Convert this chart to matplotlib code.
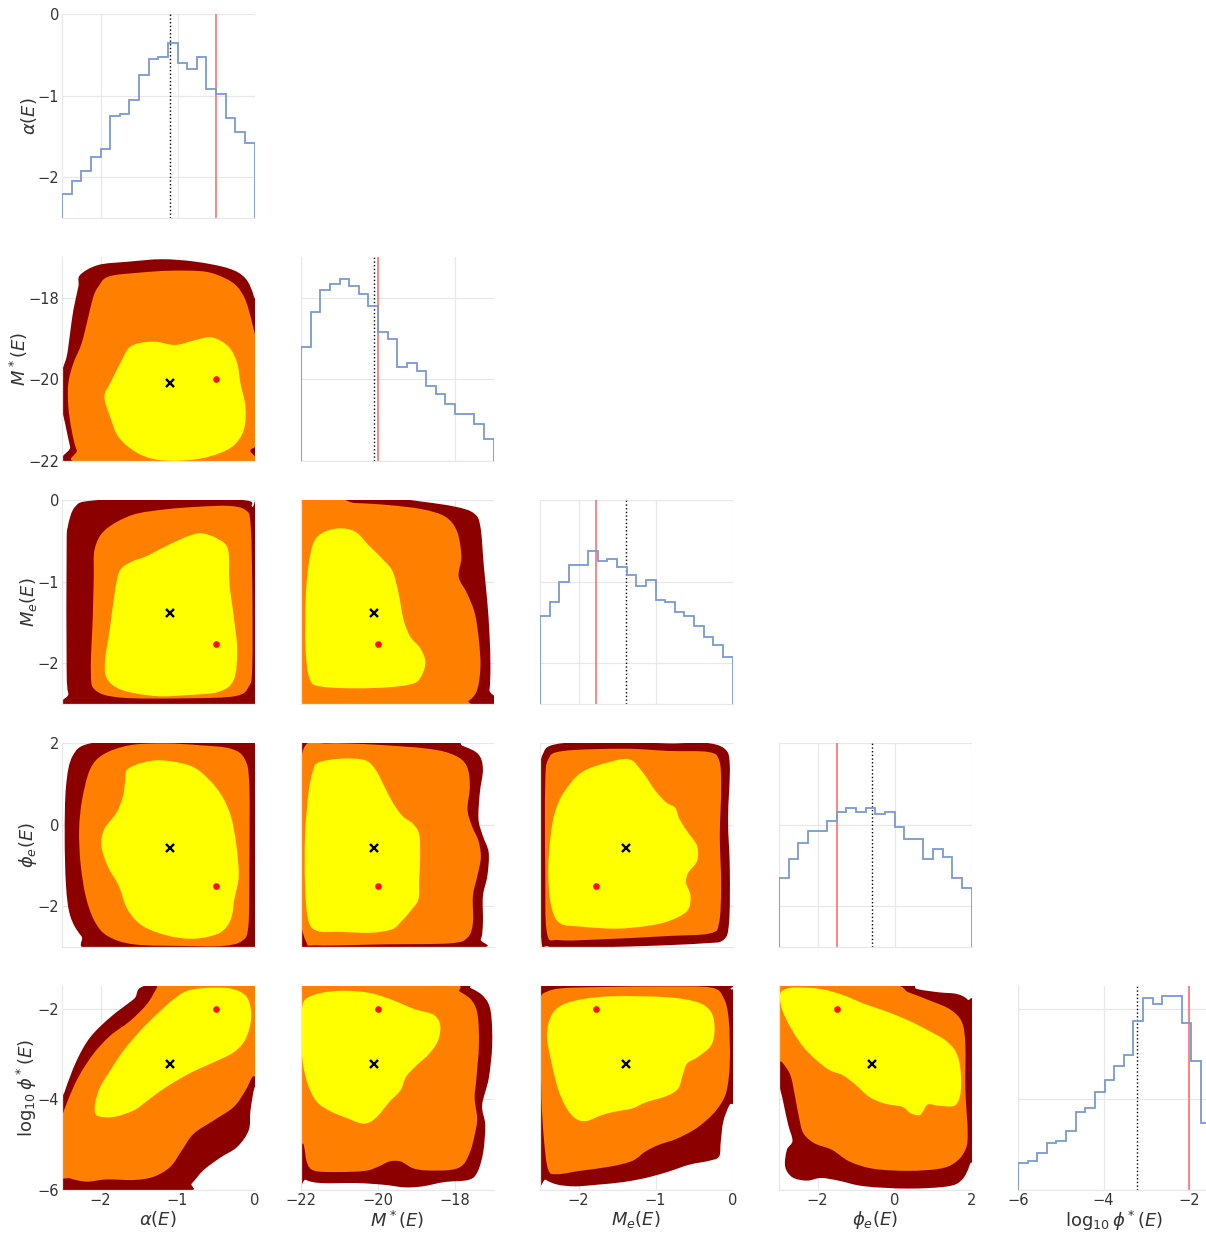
import numpy as np
import matplotlib
matplotlib.use("Agg")
import matplotlib.pyplot as plt
from matplotlib.path import Path
from matplotlib.patches import PathPatch

labels = [r"$\alpha(E)$", r"$M^*(E)$", r"$M_e(E)$", r"$\phi_e(E)$", r"$\log_{10}\phi^*(E)$"]
ranges = [(-2.5, 0.0), (-22.0, -17.0), (-2.5, 0.0), (-3.0, 2.0), (-6.0, -1.5)]
ticks = [[-2, -1, 0], [-22, -20, -18], [-2, -1, 0], [-2, 0, 2], [-6, -4, -2]]
medians = [-1.10, -20.1, -1.38, -0.58, -3.22]
truths = [-0.50, -20.0, -1.77, -1.50, -2.00]

# marginal histograms, 20 bins over each range, height as fraction of panel
hist_alpha = [0.12, 0.18, 0.23, 0.30, 0.34, 0.50, 0.51, 0.58, 0.70, 0.78,
              0.79, 0.86, 0.76, 0.73, 0.79, 0.63, 0.61, 0.49, 0.42, 0.37]
hist_mstar = [0.56, 0.73, 0.84, 0.87, 0.89, 0.86, 0.82, 0.76, 0.63, 0.60,
              0.46, 0.48, 0.44, 0.37, 0.33, 0.28, 0.23, 0.23, 0.18, 0.11]
hist_me = [0.43, 0.50, 0.60, 0.68, 0.68, 0.75, 0.70, 0.71, 0.67, 0.63,
           0.58, 0.61, 0.51, 0.50, 0.45, 0.43, 0.38, 0.33, 0.29, 0.23]
hist_phie = [0.34, 0.43, 0.51, 0.57, 0.57, 0.62, 0.66, 0.68, 0.66, 0.68,
             0.65, 0.66, 0.59, 0.53, 0.53, 0.43, 0.48, 0.44, 0.34, 0.29]
hist_logphi = [0.13, 0.14, 0.18, 0.23, 0.24, 0.29, 0.38, 0.40, 0.48, 0.54,
               0.61, 0.66, 0.83, 0.94, 0.91, 0.95, 0.95, 0.82, 0.63, 0.33]

# credible region outlines (l3 = outer, l2 = middle, l1 = inner),
# given as fractions of the plotted range of (x parameter, y parameter)
alpha_mstar_l3 = [(0.094, 0.912), (0.189, 0.961), (0.345, 0.977), (0.519, 0.989), (0.693, 0.977),
                  (0.866, 0.944), (0.953, 0.895), (0.997, 0.806), (1.01, 0.71), (1.02, -0.02),
                  (0.068, -0.02), (0.042, 0.070), (0.016, 0.185), (-0.01, 0.30), (-0.01, 0.41),
                  (0.024, 0.511), (0.042, 0.626), (0.059, 0.740), (0.085, 0.855)]
alpha_mstar_l2 = [(0.189, 0.855), (0.241, 0.904), (0.398, 0.923), (0.571, 0.933), (0.745, 0.928),
                  (0.849, 0.895), (0.910, 0.855), (0.953, 0.789), (0.988, 0.675), (1.01, 0.544),
                  (1.01, 0.119), (0.979, 0.054), (0.936, -0.01), (0.120, -0.01), (0.076, 0.054),
                  (0.050, 0.152), (0.033, 0.266), (0.033, 0.381), (0.059, 0.479), (0.102, 0.577),
                  (0.137, 0.708), (0.163, 0.806)]
alpha_mstar_l1 = [(0.398, 0.577), (0.484, 0.585), (0.589, 0.569), (0.693, 0.593), (0.780, 0.606),
                  (0.866, 0.560), (0.910, 0.479), (0.927, 0.381), (0.953, 0.266), (0.944, 0.152),
                  (0.884, 0.070), (0.762, 0.021), (0.623, 0.002), (0.484, 0.008), (0.380, 0.046),
                  (0.293, 0.119), (0.250, 0.217), (0.220, 0.315), (0.250, 0.381), (0.311, 0.495),
                  (0.345, 0.552)]

alpha_me_l3 = [(0.068, 0.967), (0.155, 0.997), (0.484, 1.01), (0.936, 1.00), (0.988, 0.967),
               (1.01, 0.918), (1.01, 0.036), (0.988, -0.01), (0.068, -0.01), (0.033, 0.052),
               (0.024, 0.183), (0.024, 0.755), (0.030, 0.869)]
alpha_me_l2 = [(0.170, 0.760), (0.224, 0.853), (0.363, 0.926), (0.536, 0.954), (0.710, 0.967),
               (0.866, 0.971), (0.953, 0.951), (0.979, 0.886), (0.988, 0.592), (0.988, 0.183),
               (0.970, 0.085), (0.901, 0.039), (0.658, 0.028), (0.311, 0.031), (0.172, 0.069),
               (0.150, 0.167), (0.160, 0.428), (0.165, 0.624)]
alpha_me_l1 = [(0.432, 0.722), (0.484, 0.747), (0.571, 0.788), (0.658, 0.824), (0.727, 0.837),
               (0.814, 0.807), (0.863, 0.755), (0.870, 0.592), (0.892, 0.428), (0.910, 0.265),
               (0.892, 0.118), (0.814, 0.060), (0.658, 0.044), (0.484, 0.039), (0.311, 0.069),
               (0.233, 0.126), (0.224, 0.216), (0.250, 0.379), (0.276, 0.559), (0.302, 0.657),
               (0.363, 0.698)]

mstar_me_l3 = [(-0.014, 1.016), (0.455, 1.008), (0.628, 0.992), (0.802, 0.967), (0.898, 0.935),
               (0.932, 0.869), (0.950, 0.673), (0.967, 0.510), (0.979, 0.346), (0.984, 0.183),
               (0.979, 0.069), (0.958, -0.013), (-0.014, -0.013)]
mstar_me_l2 = [(-0.014, 0.990), (0.281, 0.985), (0.455, 0.975), (0.628, 0.955), (0.750, 0.918),
               (0.811, 0.845), (0.833, 0.722), (0.819, 0.624), (0.863, 0.542), (0.903, 0.444),
               (0.924, 0.314), (0.932, 0.183), (0.915, 0.069), (0.872, 0.016), (0.802, -0.013),
               (-0.014, -0.013)]
mstar_me_l1 = [(0.108, 0.837), (0.194, 0.861), (0.281, 0.845), (0.351, 0.779), (0.429, 0.706),
               (0.476, 0.649), (0.507, 0.542), (0.533, 0.412), (0.568, 0.330), (0.620, 0.273),
               (0.646, 0.208), (0.628, 0.142), (0.585, 0.101), (0.455, 0.082), (0.281, 0.077),
               (0.108, 0.085), (0.047, 0.118), (0.024, 0.265), (0.024, 0.510), (0.038, 0.673),
               (0.064, 0.788)]

alpha_phie_l3 = [(0.055, 0.936), (0.146, 0.998), (0.420, 1.015), (0.922, 1.015), (1.03, 1.015),
                 (1.03, -0.02), (0.192, -0.02), (0.100, 0.054), (0.043, 0.152), (0.021, 0.299),
                 (0.014, 0.544), (0.021, 0.789)]
alpha_phie_l2 = [(0.146, 0.871), (0.215, 0.944), (0.352, 0.989), (0.534, 0.998), (0.717, 0.989),
                 (0.877, 0.972), (0.950, 0.920), (0.973, 0.789), (0.973, 0.381), (0.968, 0.103),
                 (0.934, 0.029), (0.831, 0.005), (0.648, 0.005), (0.374, 0.013), (0.237, 0.054),
                 (0.169, 0.127), (0.123, 0.250), (0.096, 0.413), (0.089, 0.577), (0.105, 0.724)]
alpha_phie_l1 = [(0.340, 0.871), (0.420, 0.904), (0.523, 0.915), (0.671, 0.887), (0.763, 0.822),
                 (0.831, 0.740), (0.877, 0.642), (0.904, 0.511), (0.918, 0.348), (0.895, 0.234),
                 (0.877, 0.136), (0.820, 0.070), (0.694, 0.041), (0.557, 0.054), (0.420, 0.103),
                 (0.340, 0.185), (0.295, 0.299), (0.237, 0.397), (0.205, 0.495), (0.219, 0.577),
                 (0.283, 0.658), (0.317, 0.740), (0.329, 0.822)]

mstar_phie_l3 = [(-0.025, 1.018), (0.728, 1.015), (0.842, 0.985), (0.922, 0.944), (0.945, 0.871),
                 (0.929, 0.757), (0.922, 0.626), (0.945, 0.544), (0.975, 0.462), (0.968, 0.348),
                 (0.945, 0.250), (0.945, 0.119), (0.934, 0.038), (0.888, -0.008), (-0.025, -0.02)]
mstar_phie_l2 = [(0.016, 0.977), (0.135, 0.998), (0.363, 0.993), (0.660, 0.972), (0.797, 0.940),
                 (0.861, 0.887), (0.877, 0.789), (0.865, 0.675), (0.888, 0.593), (0.922, 0.520),
                 (0.934, 0.438), (0.916, 0.348), (0.893, 0.250), (0.893, 0.119), (0.865, 0.046),
                 (0.774, 0.018), (0.432, 0.013), (0.089, 0.008), (0.025, 0.029), (-0.01, 0.217),
                 (-0.01, 0.708)]
mstar_phie_l1 = [(0.089, 0.904), (0.203, 0.923), (0.329, 0.917), (0.386, 0.871), (0.432, 0.789),
                 (0.477, 0.708), (0.527, 0.642), (0.580, 0.606), (0.614, 0.552), (0.619, 0.446),
                 (0.614, 0.332), (0.610, 0.234), (0.568, 0.176), (0.523, 0.127), (0.473, 0.087),
                 (0.363, 0.070), (0.203, 0.074), (0.089, 0.078), (0.039, 0.127), (0.021, 0.299),
                 (0.021, 0.544), (0.039, 0.757), (0.062, 0.863)]

me_phie_l3 = [(0.014, 0.944), (0.077, 0.993), (0.327, 1.01), (0.668, 0.998), (0.850, 1.002),
              (0.959, 0.972), (0.986, 0.887), (0.977, 0.626), (0.986, 0.381), (0.982, 0.119),
              (0.952, 0.034), (0.850, 0.018), (0.555, 0.005), (0.214, -0.003), (0.043, 0.002),
              (0.005, 0.054), (-0.005, 0.544), (-0.003, 0.838)]
me_phie_l2 = [(0.043, 0.920), (0.123, 0.961), (0.441, 0.972), (0.668, 0.961), (0.873, 0.956),
              (0.930, 0.917), (0.941, 0.789), (0.934, 0.544), (0.941, 0.299), (0.930, 0.119),
              (0.884, 0.067), (0.668, 0.054), (0.327, 0.038), (0.100, 0.034), (0.036, 0.070),
              (0.027, 0.381), (0.027, 0.789)]
me_phie_l1 = [(0.214, 0.855), (0.350, 0.904), (0.464, 0.920), (0.532, 0.858), (0.600, 0.765),
              (0.657, 0.708), (0.702, 0.683), (0.725, 0.626), (0.770, 0.560), (0.816, 0.495),
              (0.816, 0.422), (0.770, 0.364), (0.759, 0.315), (0.782, 0.250), (0.764, 0.176),
              (0.668, 0.127), (0.555, 0.103), (0.395, 0.090), (0.214, 0.100), (0.100, 0.119),
              (0.055, 0.217), (0.043, 0.381), (0.055, 0.544), (0.077, 0.658), (0.123, 0.757)]

alpha_logphi_l3 = [(-0.01, 0.390), (0.016, 0.488), (0.076, 0.634), (0.146, 0.748), (0.250, 0.846),
                   (0.372, 0.935), (0.467, 1.008), (1.03, 1.024), (1.03, 0.537), (1.0, 0.501),
                   (0.979, 0.390), (0.970, 0.293), (0.910, 0.211), (0.823, 0.159), (0.736, 0.098),
                   (0.675, 0.033), (0.623, -0.008), (-0.01, -0.008)]
alpha_logphi_l2 = [(-0.01, 0.309), (0.024, 0.423), (0.085, 0.553), (0.163, 0.667), (0.250, 0.756),
                   (0.354, 0.829), (0.441, 0.911), (0.493, 0.992), (0.51, 1.024), (1.03, 1.024),
                   (1.03, 0.602), (0.988, 0.553), (0.953, 0.488), (0.892, 0.407), (0.788, 0.341),
                   (0.684, 0.276), (0.623, 0.195), (0.563, 0.114), (0.476, 0.065), (0.372, 0.049),
                   (0.233, 0.052), (0.128, 0.041), (0.042, 0.057), (-0.01, 0.081)]
alpha_logphi_l1 = [(0.181, 0.366), (0.172, 0.423), (0.198, 0.504), (0.250, 0.585), (0.319, 0.683),
                   (0.406, 0.780), (0.493, 0.862), (0.580, 0.935), (0.658, 0.979), (0.788, 0.992),
                   (0.892, 0.984), (0.962, 0.943), (0.983, 0.846), (0.953, 0.740), (0.892, 0.675),
                   (0.788, 0.626), (0.684, 0.582), (0.597, 0.537), (0.510, 0.485), (0.441, 0.436),
                   (0.372, 0.390), (0.267, 0.358)]

mstar_logphi_l3 = [(-0.02, 1.018), (0.792, 1.015), (0.883, 0.989), (0.952, 0.945), (0.986, 0.872),
                   (0.993, 0.709), (0.975, 0.546), (0.941, 0.416), (0.957, 0.319), (0.947, 0.189),
                   (0.918, 0.091), (0.872, 0.050), (0.746, 0.039), (0.632, 0.018), (0.540, 0.013),
                   (0.426, 0.026), (0.288, 0.034), (0.105, 0.034), (0.025, 0.050), (-0.02, 0.091)]
mstar_logphi_l2 = [(-0.02, 1.01), (0.746, 1.01), (0.826, 0.972), (0.888, 0.928), (0.918, 0.855),
                   (0.924, 0.709), (0.911, 0.546), (0.902, 0.449), (0.915, 0.351), (0.902, 0.270),
                   (0.879, 0.189), (0.842, 0.124), (0.780, 0.099), (0.654, 0.096), (0.581, 0.107),
                   (0.517, 0.140), (0.460, 0.140), (0.403, 0.115), (0.334, 0.094), (0.197, 0.088),
                   (0.071, 0.094), (0.032, 0.132), (0.014, 0.221), (-0.02, 0.302)]
mstar_logphi_l1 = [(0.025, 0.937), (0.105, 0.966), (0.220, 0.977), (0.357, 0.966), (0.471, 0.933),
                   (0.586, 0.888), (0.689, 0.859), (0.723, 0.807), (0.712, 0.733), (0.666, 0.668),
                   (0.597, 0.608), (0.545, 0.554), (0.517, 0.489), (0.460, 0.433), (0.403, 0.367),
                   (0.357, 0.332), (0.311, 0.327), (0.243, 0.351), (0.151, 0.387), (0.082, 0.433),
                   (0.037, 0.514), (0.009, 0.628), (0.0, 0.790), (0.005, 0.888)]

me_logphi_l3 = [(-0.02, 1.018), (0.945, 1.018), (0.991, 0.985), (1.025, 0.937), (1.025, 0.473),
                (0.984, 0.416), (0.952, 0.335), (0.939, 0.237), (0.930, 0.164), (0.877, 0.143),
                (0.775, 0.124), (0.661, 0.088), (0.548, 0.059), (0.434, 0.039), (0.298, 0.026),
                (0.184, 0.018), (0.093, 0.026), (0.030, 0.050), (-0.02, 0.091)]
me_logphi_l2 = [(0.002, 0.937), (0.036, 0.972), (0.116, 0.989), (0.320, 0.995), (0.661, 0.998),
                (0.889, 0.992), (0.952, 0.945), (0.980, 0.839), (0.986, 0.628), (0.968, 0.481),
                (0.923, 0.400), (0.866, 0.343), (0.798, 0.294), (0.707, 0.250), (0.616, 0.221),
                (0.548, 0.189), (0.480, 0.143), (0.366, 0.115), (0.207, 0.094), (0.093, 0.078),
                (0.043, 0.099), (0.020, 0.254), (0.007, 0.465), (0.002, 0.790)]
me_logphi_l1 = [(0.059, 0.855), (0.116, 0.907), (0.230, 0.937), (0.389, 0.950), (0.661, 0.945),
                (0.820, 0.920), (0.889, 0.872), (0.907, 0.790), (0.889, 0.709), (0.820, 0.652),
                (0.764, 0.620), (0.741, 0.563), (0.718, 0.498), (0.661, 0.462), (0.548, 0.429),
                (0.480, 0.400), (0.389, 0.384), (0.320, 0.367), (0.241, 0.338), (0.184, 0.351),
                (0.134, 0.408), (0.093, 0.498), (0.059, 0.628), (0.036, 0.758)]

phie_logphi_l3 = [(-0.02, 1.018), (0.627, 1.015), (0.718, 0.985), (0.832, 0.969), (0.923, 0.961),
                  (0.980, 0.933), (1.01, 0.872), (1.01, 0.221), (0.991, 0.124), (0.950, 0.050),
                  (0.877, 0.018), (0.673, 0.007), (0.445, 0.018), (0.309, 0.046), (0.218, 0.059),
                  (0.145, 0.046), (0.070, 0.062), (0.032, 0.115), (0.041, 0.197), (0.070, 0.241),
                  (0.048, 0.319), (0.018, 0.449), (-0.02, 0.628)]
phie_logphi_l2 = [(-0.02, 1.018), (0.559, 1.01), (0.673, 0.969), (0.786, 0.928), (0.889, 0.885),
                  (0.950, 0.823), (0.968, 0.709), (0.968, 0.498), (0.980, 0.270), (0.964, 0.189),
                  (0.911, 0.132), (0.832, 0.104), (0.673, 0.094), (0.491, 0.104), (0.366, 0.140),
                  (0.275, 0.197), (0.184, 0.229), (0.127, 0.278), (0.105, 0.351), (0.082, 0.465),
                  (0.059, 0.563), (0.014, 0.628), (-0.02, 0.644)]
phie_logphi_l1 = [(0.018, 0.977), (0.082, 0.993), (0.218, 0.985), (0.332, 0.956), (0.445, 0.912),
                  (0.559, 0.875), (0.673, 0.831), (0.786, 0.777), (0.877, 0.725), (0.927, 0.660),
                  (0.945, 0.563), (0.941, 0.465), (0.911, 0.413), (0.832, 0.413), (0.775, 0.420),
                  (0.752, 0.392), (0.730, 0.367), (0.684, 0.376), (0.639, 0.408), (0.548, 0.424),
                  (0.468, 0.457), (0.400, 0.514), (0.332, 0.563), (0.264, 0.587), (0.195, 0.636),
                  (0.127, 0.701), (0.064, 0.790), (0.018, 0.880), (0.005, 0.945)]

hists = [hist_alpha, hist_mstar, hist_me, hist_phie, hist_logphi]
regions = {
    (1, 0): [alpha_mstar_l3, alpha_mstar_l2, alpha_mstar_l1],
    (2, 0): [alpha_me_l3, alpha_me_l2, alpha_me_l1],
    (2, 1): [mstar_me_l3, mstar_me_l2, mstar_me_l1],
    (3, 0): [alpha_phie_l3, alpha_phie_l2, alpha_phie_l1],
    (3, 1): [mstar_phie_l3, mstar_phie_l2, mstar_phie_l1],
    (3, 2): [me_phie_l3, me_phie_l2, me_phie_l1],
    (4, 0): [alpha_logphi_l3, alpha_logphi_l2, alpha_logphi_l1],
    (4, 1): [mstar_logphi_l3, mstar_logphi_l2, mstar_logphi_l1],
    (4, 2): [me_logphi_l3, me_logphi_l2, me_logphi_l1],
    (4, 3): [phie_logphi_l3, phie_logphi_l2, phie_logphi_l1],
}
fill_colors = ["#8c0000", "#ff8000", "#ffff00"]
text_col = "#333333"
grid_col = "#e8e8e8"


def smooth_outline(pts):
    # closed Catmull-Rom curve through the outline points, as cubic beziers
    p = np.asarray(pts, float)
    n = len(p)
    verts = [p[0]]
    codes = [Path.MOVETO]
    for k in range(n):
        p0, p1, p2, p3 = p[k - 1], p[k], p[(k + 1) % n], p[(k + 2) % n]
        verts += [p1 + (p2 - p0) / 6, p2 - (p3 - p1) / 6, p2]
        codes += [Path.CURVE4] * 3
    verts.append(p[0])
    codes.append(Path.CLOSEPOLY)
    return Path(verts, codes)


W, H = 1206, 1234
fig = plt.figure(figsize=(W / 100, H / 100), dpi=100)
n = len(labels)

for i in range(n):
    for j in range(i + 1):
        left = 62 + 239 * j
        top = 14 + 243 * i
        ax = fig.add_axes([left / W, 1 - (top + 204) / H, 192.5 / W, 204 / H])
        xlo, xhi = ranges[j]
        ylo, yhi = ranges[i]
        ax.set_xlim(xlo, xhi)
        ax.set_ylim(ylo, yhi)
        ax.set_xticks(ticks[j])
        ax.set_yticks(ticks[i])
        ax.set_axisbelow(True)
        ax.grid(True, color=grid_col, lw=0.9)
        for s in ["top", "right"]:
            ax.spines[s].set_visible(False)
        for s in ["left", "bottom"]:
            ax.spines[s].set_color(grid_col)
            ax.spines[s].set_linewidth(0.9)
        ax.tick_params(length=0, labelsize=10.5, colors=text_col, pad=2)

        if i == j:
            hx = ax.twinx()
            edges = np.linspace(xlo, xhi, len(hists[i]) + 1)
            hx.stairs(hists[i], edges, baseline=0, color="#7a9ad6", lw=1.3)
            hx.set_ylim(0, 1)
            hx.axis("off")
            ax.axvline(medians[i], color="k", ls=":", lw=1.0)
            ax.axvline(truths[i], color="#ff7070", lw=1.2)
        else:
            for pts, col in zip(regions[(i, j)], fill_colors):
                f = np.asarray(pts, float)
                xy = np.column_stack([xlo + f[:, 0] * (xhi - xlo),
                                      ylo + f[:, 1] * (yhi - ylo)])
                ax.add_patch(PathPatch(smooth_outline(xy), facecolor=col,
                                       edgecolor="none", zorder=1))
            ax.plot(medians[j], medians[i], marker="x", color="k", ms=5.5, mew=1.7, zorder=3)
            ax.plot(truths[j], truths[i], marker="o", color="#ff1010", ms=4.8,
                    mec="none", zorder=3)

        if j == 0:
            ax.set_ylabel(labels[i], fontsize=13, color=text_col, labelpad=-1)
        else:
            ax.set_yticklabels([])
        if i == n - 1:
            ax.set_xlabel(labels[j], fontsize=13, color=text_col, labelpad=1)
        else:
            ax.set_xticklabels([])

fig.savefig("out.png", dpi=100)
